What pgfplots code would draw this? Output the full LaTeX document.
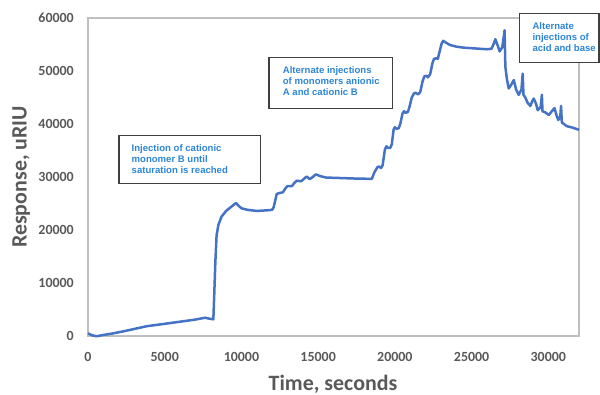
\documentclass[border=0pt]{standalone}
\usepackage{pgfplots}
\pgfplotsset{compat=1.18}
\usepackage{fontspec}
\setmainfont{Carlito}
\newfontfamily\arialfont{Liberation Sans}
\definecolor{curve}{HTML}{4472C4}
\definecolor{lbl}{HTML}{595959}
\definecolor{note}{RGB}{46,134,214}
\definecolor{framec}{HTML}{BFBFBF}
\definecolor{boxc}{HTML}{3F3F3F}
\begin{document}
\begin{tikzpicture}[x=1bp,y=1bp]
\useasboundingbox (0,0) rectangle (600,394);
\begin{axis}[
  at={(88bp,58bp)}, anchor=south west,
  scale only axis, width=491bp, height=318bp,
  xmin=0, xmax=32000, ymin=0, ymax=60000,
  xtick={0,5000,...,30000}, ytick={0,10000,...,60000},
  scaled ticks=false,
  /pgf/number format/1000 sep={},
  /pgf/number format/assume math mode=true,
  tick label style={font=\fontsize{14}{14}\selectfont\bfseries, text=lbl, inner sep=0pt},
  xticklabel style={anchor=north, yshift=-16bp},
  yticklabel style={anchor=east, xshift=-14bp},
  major tick length=0pt,
  axis line style={draw=framec, line width=1.2bp},
  xlabel={Time, seconds},
  xlabel style={at={(axis description cs:0.499,-0.170)}, anchor=base, font=\fontsize{22}{22}\selectfont\bfseries, text=lbl},
  ylabel={Response, uRIU},
  ylabel style={at={(axis description cs:-0.1248,0.5)}, anchor=base, font=\fontsize{22}{22}\selectfont\bfseries, text=lbl},
  clip=false,
]
\addplot[curve, line width=2.5bp, line join=round] coordinates {
(0,500) (250,150) (560,-50) (900,150) (1650,500) (2500,1000) (3830,1850) (5000,2300) (6000,2700) (7000,3100) (7630,3450) (7850,3300) (8170,3150)
(8230,8000) (8300,14000) (8380,19000) (8500,21000) (8700,22500) (9000,23600) (9300,24300) (9650,25100) (9800,24600) (10000,24100) (10400,23800) (11000,23600) (11600,23700) (12000,23800)
(12100,24300) (12300,26800) (12500,27000) (12700,27100) (12850,27800) (13000,28300) (13300,28300) (13450,28900) (13600,29300) (13900,29200) (14050,29600) (14250,30100) (14450,29600) (14650,30000) (14850,30500) (15100,30200) (15500,29900) (16500,29800) (17500,29700) (18500,29650)
(18650,30800) (18850,31800) (18950,32000) (19100,31700) (19200,32200) (19350,35200) (19450,35800) (19550,35500) (19700,35500) (19800,36200) (19920,39000) (20000,39400) (20100,39100) (20250,39200) (20350,40000) (20500,42000) (20600,42400) (20700,42100) (20850,42300) (20950,43200) (21100,45000) (21250,45800) (21350,45900) (21500,45600) (21650,46000) (21800,48000) (21920,49000) (22050,49100) (22150,48800) (22300,49400) (22450,51500) (22550,52300) (22700,52400) (22800,52300) (22900,53500) (23050,55200) (23150,55700) (23300,55400) (23600,54900) (24000,54600) (24500,54400) (25000,54300) (25500,54200) (26000,54100) (26300,54200)
(26450,55200) (26550,56000) (26700,54800) (26830,53700) (27000,54500) (27100,56500) (27150,57700) (27200,50800) (27300,48500) (27420,46700) (27600,47500) (27750,48300) (27900,46500) (28070,45500) (28250,46500) (28330,49500) (28380,45500) (28500,45000) (28650,44000) (28830,43400) (28950,44300) (29050,44800) (29200,43800) (29310,42600) (29500,43200) (29580,45500) (29620,42400) (29800,42200) (30030,41700) (30200,42300) (30400,43000) (30550,41500) (30650,40750) (30780,41500) (30830,43400) (30880,40300) (31010,40000) (31200,39600) (31330,39500) (31600,39300) (32000,38900)
};
\end{axis}
\draw[draw=boxc, line width=1.2bp, fill=white] (119,210.3) rectangle (260.7,258.3);
\node[anchor=north west, inner sep=0pt, align=left, text=note, font=\arialfont\bfseries\fontsize{9.6}{11}\selectfont] at (131.5,250) {Injection of cationic\\monomer B until\\saturation is reached};
\draw[draw=boxc, line width=1.2bp, fill=white] (269,285.7) rectangle (392.7,336.7);
\node[anchor=north west, inner sep=0pt, align=left, text=note, font=\arialfont\bfseries\fontsize{9.6}{11}\selectfont] at (282.7,327.5) {Alternate injections\\of monomers anionic\\A and cationic B};
\draw[draw=boxc, line width=1.2bp, fill=white] (519.3,331.7) rectangle (599,380.7);
\node[anchor=north west, inner sep=0pt, align=left, text=note, font=\arialfont\bfseries\fontsize{9.6}{11}\selectfont] at (532.3,371.5) {Alternate\\injections of\\acid and base};
\end{tikzpicture}
\end{document}
